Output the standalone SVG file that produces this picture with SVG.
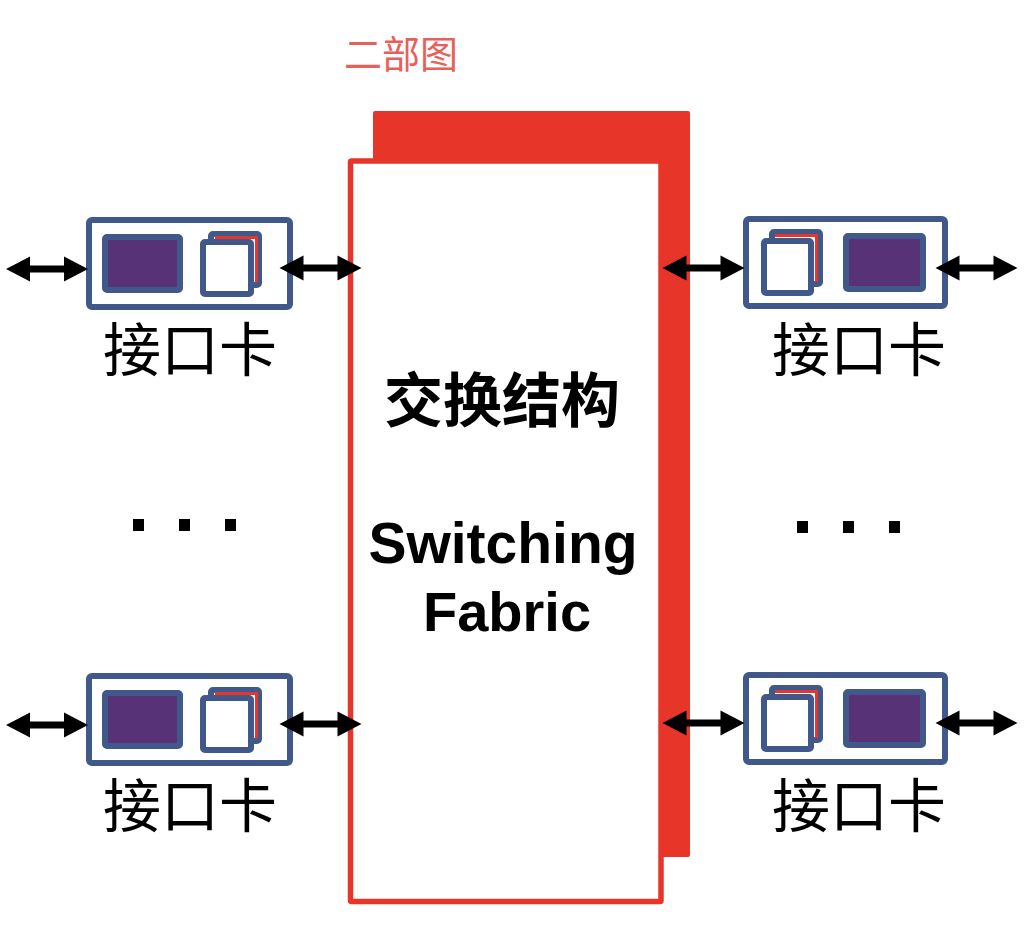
<svg xmlns="http://www.w3.org/2000/svg" xmlns:xlink="http://www.w3.org/1999/xlink" width="1024" height="944" viewBox="0 0 1024 944">
<style>
.card{fill:#fff;stroke:#41598A;stroke-width:6;}
.chip{fill:#573277;stroke:#41598A;stroke-width:6;}
.sq{fill:#fff;stroke:#41598A;stroke-width:6;}
.rl{fill:none;stroke:#E8352A;stroke-width:3;}
.lbl{font-family:"Noto Sans CJK SC","Noto Sans CJK JP",sans-serif;font-size:58px;fill:#000;text-anchor:middle;}
.dot{fill:#000;}
</style>
<defs>
<polygon id="arr" points="-41,0 -17,-12.5 -17,-3.5 17,-3.5 17,-12.5 41,0 17,12.5 17,3.5 -17,3.5 -17,12.5" fill="#000"/>
</defs>
<rect width="1024" height="944" fill="#fff"/>
<text x="401" y="68" font-family="Noto Sans CJK SC,sans-serif" font-size="38" fill="#E8605A" text-anchor="middle">二部图</text>
<g id="fabric">
<rect x="373" y="111" width="317" height="746" rx="2" fill="#E8352A"/>
<rect x="350.5" y="161" width="310.5" height="740.5" rx="1" fill="#fff" stroke="#E8352A" stroke-width="5.5"/>
<text x="502" y="422" font-family="Noto Sans CJK SC,sans-serif" font-weight="700" font-size="59" text-anchor="middle" fill="#000">交换结构</text>
<text x="503" y="563" font-family="Liberation Sans,Arial,sans-serif" font-weight="700" font-size="57" text-anchor="middle" fill="#000">Switching</text>
<text x="507" y="631" font-family="Liberation Sans,Arial,sans-serif" font-weight="700" font-size="56" text-anchor="middle" fill="#000">Fabric</text>
</g>
<g id="card-left-top">
<rect class="card" x="89" y="220" width="201" height="87" rx="3"/>
<rect class="chip" x="105" y="237" width="75" height="53" rx="2"/>
<rect class="sq" x="211" y="234" width="48" height="51" rx="2"/>
<path class="rl" d="M215 237.5H256.5V282"/>
<rect class="sq" x="203" y="242" width="48" height="52" rx="2"/>
<text class="lbl" x="190" y="371">接口卡</text>
</g>
<g id="card-left-bottom" transform="translate(0,456)">
<rect class="card" x="89" y="220" width="201" height="87" rx="3"/>
<rect class="chip" x="105" y="237" width="75" height="53" rx="2"/>
<rect class="sq" x="211" y="234" width="48" height="51" rx="2"/>
<path class="rl" d="M215 237.5H256.5V282"/>
<rect class="sq" x="203" y="242" width="48" height="52" rx="2"/>
<text class="lbl" x="190" y="371">接口卡</text>
</g>
<g id="card-right-top">
<rect class="card" x="746" y="219" width="199" height="87" rx="3"/>
<rect class="sq" x="772" y="232" width="48" height="52" rx="2"/>
<path class="rl" d="M775 235.5H816.5V282"/>
<rect class="sq" x="764" y="241" width="47" height="52" rx="2"/>
<rect class="chip" x="846" y="236" width="77" height="53" rx="2"/>
<text class="lbl" x="859" y="371">接口卡</text>
</g>
<g id="card-right-bottom" transform="translate(0,456)">
<rect class="card" x="746" y="219" width="199" height="87" rx="3"/>
<rect class="sq" x="772" y="232" width="48" height="52" rx="2"/>
<path class="rl" d="M775 235.5H816.5V282"/>
<rect class="sq" x="764" y="241" width="47" height="52" rx="2"/>
<rect class="chip" x="846" y="236" width="77" height="53" rx="2"/>
<text class="lbl" x="859" y="371">接口卡</text>
</g>
<g id="dots-left">
<rect class="dot" x="133" y="519" width="11" height="12"/>
<rect class="dot" x="179" y="519" width="11" height="12"/>
<rect class="dot" x="225" y="519" width="11" height="12"/>
</g>
<g id="dots-right">
<rect class="dot" x="797" y="521" width="11" height="12"/>
<rect class="dot" x="843" y="521" width="11" height="12"/>
<rect class="dot" x="889" y="521" width="11" height="12"/>
</g>
<g id="connectors">
<use xlink:href="#arr" x="47" y="269"/>
<use xlink:href="#arr" x="320.5" y="268"/>
<use xlink:href="#arr" x="703.5" y="268"/>
<use xlink:href="#arr" x="976.5" y="268"/>
<use xlink:href="#arr" x="47" y="725"/>
<use xlink:href="#arr" x="320.5" y="724"/>
<use xlink:href="#arr" x="703.5" y="723"/>
<use xlink:href="#arr" x="976.5" y="723"/>
</g>
</svg>
